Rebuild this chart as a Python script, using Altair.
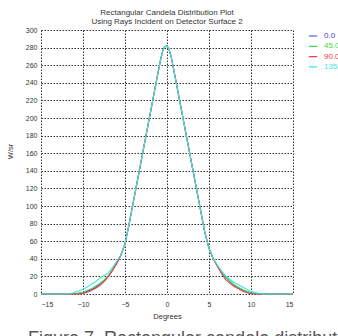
import altair as alt
import pandas as pd

# Angular positions (degrees) shared by every series
degrees = [-15, -12, -11.5, -11, -10.5, -10, -9.5, -9, -8.5, -8, -7.5, -7, -6.5, -6,
           -5.5, -5, -4.5, -4, -3.5, -3, -2.5, -2, -1.5, -1, -0.75, -0.5, -0.25, 0,
           0.25, 0.5, 0.75, 1, 1.5, 2, 2.5, 3, 3.5, 4, 4.5, 5, 5.5,
           6, 6.5, 7, 7.5, 8, 8.5, 9, 9.5, 10, 10.5, 11, 11.5, 12, 15]

# Intensity (W/sr) for each detector rotation angle
w_sr_0 = [0, 0, 0, 0.2, 0.6, 1.5, 3, 5, 7.5, 11, 15, 20, 27, 35,
          44, 57, 80, 105, 130, 155, 180, 205, 230, 255, 267, 276.5, 281, 282,
          278, 269.5, 257.5, 245, 220, 195, 170, 145, 120, 95, 70, 52, 40,
          32, 24.5, 18.5, 14, 10, 7, 4.5, 2.5, 1.2, 0.4, 0, 0, 0, 0]
w_sr_45 = [0, 0, 0.1, 0.5, 1.2, 2.2, 4, 6, 9, 12, 16, 21, 27.5, 35,
           44, 57, 80, 105, 130, 155, 180, 205, 230, 255, 267, 276.5, 281, 282,
           278, 269.5, 257.5, 245, 220, 195, 170, 145, 120, 95, 70, 52, 40,
           32, 25, 19, 14.5, 10.5, 7.5, 5, 3, 1.5, 0.6, 0.2, 0, 0, 0]
w_sr_90 = [0, 0, 0, 0, 0, 0.6, 2, 4, 6.5, 9.5, 14, 19.5, 26.5, 34.5,
           44, 57, 80, 105, 130, 155, 180, 205, 230, 255, 267, 276.5, 281, 282,
           278, 269.5, 257.5, 245, 220, 195, 170, 145, 120, 95, 70, 52, 40,
           31.5, 23, 16, 12, 8.5, 6, 3.5, 1.5, 0.2, 0, 0, 0, 0, 0]
w_sr_135 = [0, 0, 0.3, 2, 3.5, 5.3, 8, 11, 14, 18, 21, 24, 30, 37,
            44, 57, 80, 105, 130, 155, 180, 205, 230, 255, 267, 276.5, 281, 282,
            278, 269.5, 257.5, 245, 220, 195, 170, 145, 120, 95, 70, 52, 40,
            33, 26, 20.5, 16.5, 13, 10.5, 8, 5.5, 3, 1.6, 0.6, 0.1, 0, 0]

series_names = ["0.0", "45.0", "90.0", "135"]
series_colors = ["#3b3be8", "#44dd4c", "#f03c4a", "#3fe6e0"]

x_ticks = [-15, -10, -5, 0, 5, 10, 15]
y_ticks = list(range(0, 301, 20))

caption = "Figure 7. Rectangular candela distribution"

rows = []
for name, vals in zip(series_names, [w_sr_0, w_sr_45, w_sr_90, w_sr_135]):
    for d, v in zip(degrees, vals):
        rows.append({"deg": d, "wsr": v, "angle": name})
df = pd.DataFrame(rows)

sans = "Liberation Sans, Arial, sans-serif"

lines = alt.Chart(df).mark_line(strokeWidth=1.1).encode(
    x=alt.X("deg:Q",
            scale=alt.Scale(domain=[-15, 15], nice=False, zero=False),
            axis=alt.Axis(values=x_ticks, title="Degrees", labelPadding=6,
                          titlePadding=5, format="d")),
    y=alt.Y("wsr:Q",
            scale=alt.Scale(domain=[0, 300], nice=False),
            axis=alt.Axis(values=y_ticks, title="W/sr", labelPadding=4,
                          titleX=-31, titleY=121, titleBaseline="middle")),
    color=alt.Color("angle:N",
                    scale=alt.Scale(domain=series_names, range=series_colors),
                    sort=series_names,
                    legend=alt.Legend(orient="none", legendX=267, legendY=1,
                                      title=None, symbolType="stroke",
                                      symbolSize=70, symbolStrokeWidth=1.2,
                                      labelFontSize=8, labelFont=sans,
                                      labelOffset=6, rowPadding=0.3,
                                      clipHeight=10, padding=0,
                                      labelColor={"expr": "scale('color', datum.value)"})),
)

note = alt.Chart(pd.DataFrame({"t": [caption]})).mark_text(
    align="left", baseline="alphabetic", fontSize=18,
    font=sans, color="#555555",
).encode(x=alt.value(-13), y=alt.value(314), text="t:N")

chart = alt.layer(lines, note).properties(
    width=252,
    height=264,
    background="white",
    title=alt.TitleParams(
        text=["Rectangular Candela Distribution Plot",
              "Using Rays Incident on Detector Surface 2"],
        fontSize=8, font=sans, fontWeight="normal", color="#333333",
        anchor="middle", lineHeight=9.5, offset=0, frame="group"),
    autosize=alt.AutoSizeParams(type="none"),
    padding={"left": 41, "top": 30, "right": 45, "bottom": 42},
).configure_view(
    stroke=None
).configure_axis(
    domain=False, ticks=False, tickSize=0,
    grid=True, gridColor="#333333", gridDash=[1.5, 1.5], gridWidth=1, gridOpacity=1,
    labelFont=sans, labelFontSize=7, labelColor="#333333",
    titleFont=sans, titleFontSize=7.5, titleFontWeight="normal", titleColor="#333333",
)

chart.save("out.html", embed_options={"renderer": "svg", "actions": False})
